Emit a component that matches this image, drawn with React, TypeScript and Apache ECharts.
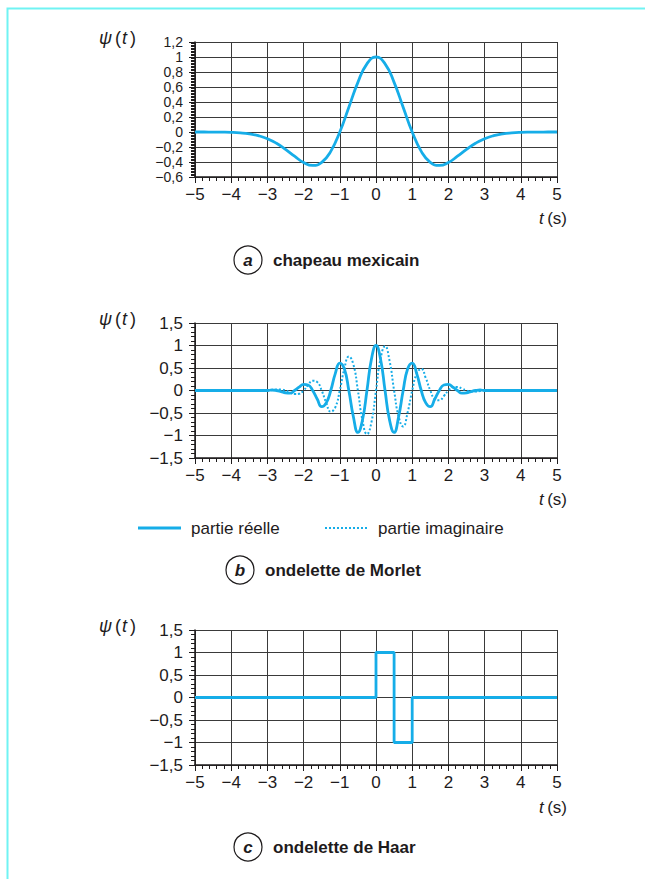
import React, { useEffect, useRef } from "react";
import * as echarts from "echarts";

// ---- data ----
const hatT = [-5, -4.75, -4.5, -4.25, -4, -3.75, -3.5, -3.25, -3, -2.75, -2.5, -2.25, -2, -1.75, -1.5, -1.25, -1, -0.75, -0.5, -0.25, 0,
  0.25, 0.5, 0.75, 1, 1.25, 1.5, 1.75, 2, 2.25, 2.5, 2.75, 3, 3.25, 3.5, 3.75, 4, 4.25, 4.5, 4.75, 5];
const hatPsi = [0, -0.0003, -0.0008, -0.002, -0.005, -0.012, -0.025, -0.049, -0.089, -0.15, -0.231, -0.323, -0.406, -0.446, -0.406, -0.258, 0, 0.33, 0.662, 0.909, 1,
  0.909, 0.662, 0.33, 0, -0.258, -0.406, -0.446, -0.406, -0.323, -0.231, -0.15, -0.089, -0.049, -0.025, -0.012, -0.005, -0.002, -0.0008, -0.0003, 0];

const morletT = [-5, -3, -2.875, -2.75, -2.625, -2.5, -2.375, -2.25, -2.125, -2, -1.875, -1.75, -1.625, -1.5, -1.375, -1.25, -1.125, -1, -0.875, -0.75, -0.625, -0.5, -0.375, -0.25, -0.125, 0,
  0.125, 0.25, 0.375, 0.5, 0.625, 0.75, 0.875, 1, 1.125, 1.25, 1.375, 1.5, 1.625, 1.75, 1.875, 2, 2.125, 2.25, 2.375, 2.5, 2.625, 2.75, 2.875, 3, 5];
const morletReal = [0, 0, 0.011, 0, -0.023, -0.05, -0.06, 0, 0.074, 0.135, 0.122, 0, -0.189, -0.36, -0.275, 0, 0.376, 0.607, 0.482, 0, -0.582, -0.93, -0.659, 0, 0.702, 1,
  0.702, 0, -0.659, -0.93, -0.582, 0, 0.482, 0.607, 0.376, 0, -0.275, -0.36, -0.189, 0, 0.122, 0.135, 0.074, 0, -0.06, -0.05, -0.023, 0, 0.011, 0, 0];
const morletImag = [0, 0, 0.011, 0.023, 0.023, 0, -0.042, -0.08, -0.074, 0, 0.122, 0.216, 0.189, 0, -0.275, -0.47, -0.376, 0, 0.482, 0.755, 0.582, 0, -0.659, -0.969, -0.702, 0,
  0.702, 0.985, 0.659, 0, -0.582, -0.8, -0.482, 0, 0.376, 0.48, 0.275, 0, -0.189, -0.216, -0.122, 0, 0.074, 0.08, 0.042, 0, -0.023, -0.023, -0.011, 0, 0];

const haarT = [-5, 0, 0, 0.5, 0.5, 1, 1, 5];
const haarPsi = [0, 0, 1, 1, -1, -1, 0, 0];

const xTicks = { min: -5, max: 5, interval: 1 };
const yTicksA = { min: -0.6, max: 1.2, interval: 0.2, minorSplit: 10, fontSize: 14 };
const yTicksB = { min: -1.5, max: 1.5, interval: 0.5, minorSplit: 5, fontSize: 17 };
const yTicksC = { min: -1.5, max: 1.5, interval: 0.5, minorSplit: 5, fontSize: 17 };

const legendLabels = ["partie réelle", "partie imaginaire"];
const captions = [
  { letter: "a", text: "chapeau mexicain" },
  { letter: "b", text: "ondelette de Morlet" },
  { letter: "c", text: "ondelette de Haar" },
];

const FONT = "'Liberation Sans', Arial, sans-serif";
const INK = "#1e1b1c";
const GRIDC = "#3a3a3a";
const BLUE = "#16ade8";

const fmt = (v: number) => {
  const r = Math.round(v * 10) / 10;
  const s = String(Math.abs(r)).replace(".", ",");
  return r < 0 ? "\u2212" + s : s;
};

const pair = (xs: number[], ys: number[]) => xs.map((x, i) => [x, ys[i]]);

export default function App() {
  const ref = useRef<HTMLDivElement>(null);
  useEffect(() => {
    if (!ref.current) return;
    const chart = echarts.init(ref.current, undefined, { renderer: "svg" });
    const grids = [
      { left: 195, width: 362, top: 42, height: 135 },
      { left: 195, width: 362, top: 323, height: 135 },
      { left: 195, width: 362, top: 630, height: 135 },
    ];
    const xAxis = grids.map((_, i) => ({
      type: "value",
      gridIndex: i,
      min: xTicks.min,
      max: xTicks.max,
      interval: xTicks.interval,
      axisLine: { show: true, onZero: false, lineStyle: { color: INK, width: 1.5 } },
      axisTick: { show: true, inside: false, length: 6, lineStyle: { color: INK, width: 1 } },
      minorTick: { show: true, splitNumber: 5, length: 4, lineStyle: { color: INK, width: 1 } },
      splitLine: { show: true, lineStyle: { color: GRIDC, width: 1 } },
      axisLabel: { color: INK, fontSize: 17, fontFamily: FONT, margin: 9, formatter: fmt, showMinLabel: true, showMaxLabel: true },
    }));
    const ys = [yTicksA, yTicksB, yTicksC];
    const yAxis = ys.map((y, i) => ({
      type: "value",
      gridIndex: i,
      min: y.min,
      max: y.max,
      interval: y.interval,
      axisLine: { show: true, onZero: false, lineStyle: { color: INK, width: 1.5 } },
      axisTick: { show: true, inside: false, length: 6, lineStyle: { color: INK, width: 1 } },
      minorTick: { show: true, splitNumber: y.minorSplit, length: 4, lineStyle: { color: INK, width: 1 } },
      splitLine: { show: true, lineStyle: { color: GRIDC, width: 1 } },
      axisLabel: {
        color: INK, fontSize: y.fontSize, lineHeight: y.fontSize, fontFamily: FONT, margin: 12, formatter: fmt,
        showMinLabel: true, showMaxLabel: true, hideOverlap: false,
      },
    }));

    const psiLabel = (y: number) => ({
      type: "text",
      x: 99,
      y,
      style: {
        text: "{i|\u03c8}{n|(}{i|t}{n|)}",
        verticalAlign: "middle",
        rich: {
          i: { fontFamily: FONT, fontSize: 18, fontStyle: "italic", fill: INK },
          n: { fontFamily: FONT, fontSize: 18, fill: INK, padding: [0, 1, 0, 3] },
        },
      },
    });
    const tLabel = (y: number) => ({
      type: "text",
      x: 567,
      y,
      style: {
        text: "{i|t} {n|(s)}",
        align: "right",
        verticalAlign: "middle",
        rich: {
          i: { fontFamily: FONT, fontSize: 17, fontStyle: "italic", fill: INK },
          n: { fontFamily: FONT, fontSize: 17, fill: INK },
        },
      },
    });
    const caption = (cx: number, cy: number, c: { letter: string; text: string }) => [
      { type: "circle", shape: { cx, cy, r: 14 }, style: { fill: "none", stroke: INK, lineWidth: 1.2 } },
      {
        type: "text", x: cx, y: cy,
        style: { text: c.letter, align: "center", verticalAlign: "middle", fontFamily: FONT, fontSize: 17, fontStyle: "italic", fontWeight: "bold", fill: INK },
      },
      {
        type: "text", x: cx + 25, y: cy,
        style: { text: c.text, verticalAlign: "middle", fontFamily: FONT, fontSize: 17, fontWeight: "bold", fill: INK },
      },
    ];

    const graphic: any[] = [
      { type: "rect", shape: { x: 7.5, y: 8.5, width: 900, height: 1000 }, style: { fill: "none", stroke: "#70f3f3", lineWidth: 2 } },
      psiLabel(38),
      psiLabel(319),
      psiLabel(626),
      tLabel(218),
      tLabel(499),
      tLabel(807),
      ...caption(248, 260, captions[0]),
      ...caption(240, 570, captions[1]),
      ...caption(248, 847, captions[2]),
      { type: "line", shape: { x1: 138, y1: 528, x2: 181, y2: 528 }, style: { stroke: BLUE, lineWidth: 2.8 } },
      { type: "text", x: 191, y: 528, style: { text: legendLabels[0], verticalAlign: "middle", fontFamily: FONT, fontSize: 17, fill: INK } },
      { type: "line", shape: { x1: 325, y1: 528, x2: 367, y2: 528 }, style: { stroke: BLUE, lineWidth: 2, lineDash: [2, 2] } },
      { type: "text", x: 378, y: 528, style: { text: legendLabels[1], verticalAlign: "middle", fontFamily: FONT, fontSize: 17, fill: INK } },
    ];

    chart.setOption({
      animation: false,
      backgroundColor: "#ffffff",
      grid: grids,
      xAxis,
      yAxis,
      graphic,
      series: [
        {
          type: "line", xAxisIndex: 0, yAxisIndex: 0, data: pair(hatT, hatPsi), smooth: true, showSymbol: false,
          lineStyle: { color: BLUE, width: 2.8 }, z: 5,
        },
        {
          type: "line", name: legendLabels[1], xAxisIndex: 1, yAxisIndex: 1, data: pair(morletT, morletImag), smooth: true, showSymbol: false,
          lineStyle: { color: BLUE, width: 2, type: [2, 2] }, z: 4,
        },
        {
          type: "line", name: legendLabels[0], xAxisIndex: 1, yAxisIndex: 1, data: pair(morletT, morletReal), smooth: true, showSymbol: false,
          lineStyle: { color: BLUE, width: 2.8 }, z: 5,
        },
        {
          type: "line", xAxisIndex: 2, yAxisIndex: 2, data: pair(haarT, haarPsi), showSymbol: false,
          lineStyle: { color: BLUE, width: 2.8 }, z: 5,
        },
      ],
    });
    return () => chart.dispose();
  }, []);
  return <div ref={ref} style={{ position: "absolute", left: 0, top: 0, width: 645, height: 879, background: "#fff" }} />;
}
